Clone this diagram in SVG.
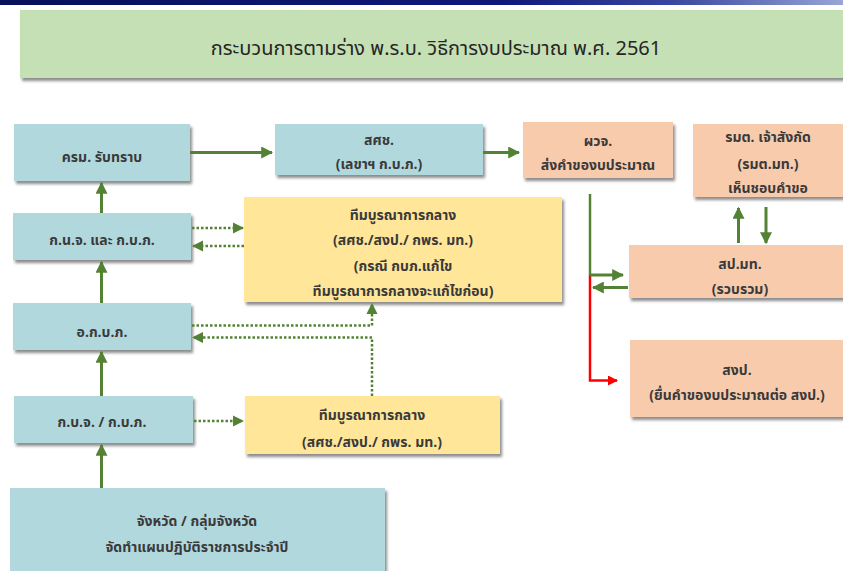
<svg xmlns="http://www.w3.org/2000/svg" width="843" height="571" viewBox="0 0 843 571">
<defs>
<linearGradient id="bar" x1="0" y1="0" x2="1" y2="0">
<stop offset="0" stop-color="#07105a"/>
<stop offset="0.6" stop-color="#10187a"/>
<stop offset="0.8" stop-color="#3a48a0"/>
<stop offset="1" stop-color="#98a6d6"/>
</linearGradient>
<filter id="sh" x="-10%" y="-10%" width="130%" height="140%">
<feDropShadow dx="2" dy="3" stdDeviation="1.5" flood-color="#000" flood-opacity="0.45"/>
</filter>
<marker id="ag" viewBox="0 0 10 10" refX="9" refY="5" markerWidth="4" markerHeight="4" orient="auto" markerUnits="strokeWidth">
<path d="M0,0 L10,5 L0,10 z" fill="#548235"/>
</marker>
<marker id="agd" viewBox="0 0 10 10" refX="9" refY="5" markerWidth="4.5" markerHeight="4.5" orient="auto" markerUnits="strokeWidth">
<path d="M0,0 L10,5 L0,10 z" fill="#548235"/>
</marker>
<marker id="ar" viewBox="0 0 10 10" refX="9" refY="5" markerWidth="4" markerHeight="4" orient="auto" markerUnits="strokeWidth">
<path d="M0,0 L10,5 L0,10 z" fill="#ff0000"/>
</marker>
<style>
text{font-family:Tahoma,"Noto Sans Thai","Noto Sans",sans-serif;font-size:14px;fill:#3a3a3a;text-anchor:middle;font-weight:bold}
.t{font-size:20px;font-weight:normal;fill:#262626}
.blue{fill:#b1d8dd;filter:url(#sh)}
.peach{fill:#f8cbad;filter:url(#sh)}
.yel{fill:#ffe699;filter:url(#sh)}
.grn{fill:#c5e0b4;filter:url(#sh)}
.s{stroke:#548235;stroke-width:3;fill:none}
.d{stroke:#548235;stroke-width:2.5;fill:none;stroke-dasharray:2.5 2}
.r{stroke:#ff0000;stroke-width:3;fill:none}
</style>
</defs>
<rect x="0" y="0" width="843" height="5" fill="url(#bar)"/>
<g id="title">
<rect class="grn" x="20" y="10" width="826" height="68"/>
<text class="t" x="436" y="55">กระบวนการตามร่าง พ.ร.บ. วิธีการงบประมาณ พ.ศ. 2561</text>
</g>
<g id="n_krm">
<rect class="blue" x="14" y="124" width="176" height="57"/>
<text x="102" y="162">ครม. รับทราบ</text>
</g>
<g id="n_sasach">
<rect class="blue" x="275" y="124" width="208" height="51"/>
<text x="379" y="145">สศช.</text>
<text x="379" y="169">(เลขาฯ ก.บ.ภ.)</text>
</g>
<g id="n_pwj">
<rect class="peach" x="523" y="122" width="150" height="56"/>
<text x="598" y="146">ผวจ.</text>
<text x="598" y="170">ส่งคำของบประมาณ</text>
</g>
<g id="n_rmt">
<rect class="peach" x="693" y="124" width="155" height="73"/>
<text x="768" y="142">รมต. เจ้าสังกัด</text>
<text x="768" y="169">(รมต.มท.)</text>
<text x="768" y="193">เห็นชอบคำขอ</text>
</g>
<g id="n_knj">
<rect class="blue" x="13" y="213" width="178" height="47"/>
<text x="102" y="245">ก.น.จ. และ ก.บ.ภ.</text>
</g>
<g id="n_team1">
<rect class="yel" x="244" y="197" width="318" height="105"/>
<text x="403" y="220">ทีมบูรณาการกลาง</text>
<text x="403" y="245">(สศช./สงป./ กพร. มท.)</text>
<text x="403" y="271">(กรณี กบภ.แก้ไข</text>
<text x="403" y="296">ทีมบูรณาการกลางจะแก้ไขก่อน)</text>
</g>
<g id="n_spmt">
<rect class="peach" x="629" y="245" width="220" height="53"/>
<text x="740" y="269">สป.มท.</text>
<text x="740" y="294">(รวบรวม)</text>
</g>
<g id="n_okbp">
<rect class="blue" x="13" y="303" width="178" height="47"/>
<text x="102" y="337">อ.ก.บ.ภ.</text>
</g>
<g id="n_sngp">
<rect class="peach" x="630" y="340" width="220" height="77"/>
<text x="737" y="375">สงป.</text>
<text x="737" y="400">(ยื่นคำของบประมาณต่อ สงป.)</text>
</g>
<g id="n_kbj">
<rect class="blue" x="14" y="396" width="179" height="47"/>
<text x="102" y="427">ก.บ.จ. / ก.บ.ภ.</text>
</g>
<g id="n_team2">
<rect class="yel" x="245" y="396" width="255" height="58"/>
<text x="372" y="420">ทีมบูรณาการกลาง</text>
<text x="372" y="447">(สศช./สงป./ กพร. มท.)</text>
</g>
<g id="n_province">
<rect class="blue" x="10" y="488" width="375" height="90"/>
<text x="197" y="526">จังหวัด / กลุ่มจังหวัด</text>
<text x="197" y="552">จัดทำแผนปฏิบัติราชการประจำปี</text>
</g>
<g id="connectors">
<path class="s" d="M190,152.5 H272" marker-end="url(#ag)"/>
<path class="s" d="M483,152.5 H519" marker-end="url(#ag)"/>
<path class="s" d="M101.5,213 V183" marker-end="url(#ag)"/>
<path class="s" d="M101.5,303 V262" marker-end="url(#ag)"/>
<path class="s" d="M101.5,396 V352" marker-end="url(#ag)"/>
<path class="s" d="M101.5,488 V445" marker-end="url(#ag)"/>
<path class="d" d="M192,228 H243" marker-end="url(#agd)"/>
<path class="d" d="M244,246 H193" marker-end="url(#agd)"/>
<path class="d" d="M192,325.5 H372 V304" marker-end="url(#agd)"/>
<path class="d" d="M372,396 V337.5 H193" marker-end="url(#agd)"/>
<path class="d" d="M194,421 H243" marker-end="url(#agd)"/>
<path class="s" d="M590,194 V275" style="stroke-width:2.5"/>
<path class="r" d="M590,275 V380.5 H617" style="stroke-width:2.5" marker-end="url(#ar)"/>
<path class="s" d="M590,275 H623" marker-end="url(#ag)"/>
<path class="s" d="M628,287.5 H593" marker-end="url(#ag)"/>
<path class="s" d="M738.5,243 V208" marker-end="url(#ag)"/>
<path class="s" d="M766,207 V243" marker-end="url(#ag)"/>
</g>
</svg>
